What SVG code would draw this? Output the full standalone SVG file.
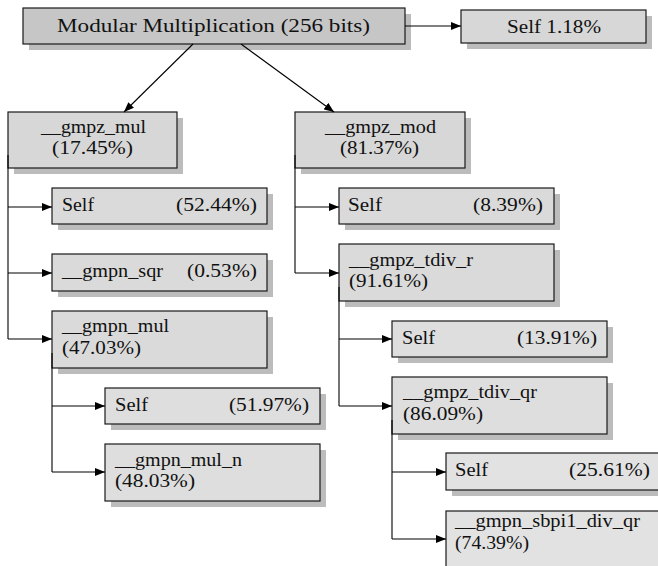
<svg xmlns="http://www.w3.org/2000/svg" width="658" height="566" viewBox="0 0 658 566">
<defs>
<marker id="ah" viewBox="0 0 10 8" refX="10" refY="4" markerWidth="10" markerHeight="8" markerUnits="userSpaceOnUse" orient="auto">
<path d="M0,0 L10,4 L0,8 Z" fill="#000"/>
</marker>
</defs>
<style>
.sh{fill:#bcbcbc}
.bx{stroke:#1a1a1a;stroke-width:1.2}
.l0{fill:#c6c6c6}
.l1{fill:#d7d7d7}
.l2{fill:#dadada}
.l3{fill:#dedede}
.l4{fill:#e2e2e2}
.t{font-family:"Liberation Serif","Times New Roman",serif;font-size:19px;fill:#111}
.c{fill:none;stroke:#000;stroke-width:1.1}
.a{marker-end:url(#ah)}
</style>
<rect width="658" height="566" fill="#fff"/>

<g id="root">
<rect class="sh" x="29" y="14" width="382" height="36"/>
<rect class="bx l0" x="23" y="8" width="382" height="36"/>
<text class="t" x="57" y="32" textLength="313" lengthAdjust="spacingAndGlyphs">Modular Multiplication (256 bits)</text>
</g>
<g id="self_root">
<rect class="sh" x="467" y="16" width="185" height="33"/>
<rect class="bx l1" x="461" y="10" width="185" height="33"/>
<text class="t" x="507" y="33" textLength="94" lengthAdjust="spacingAndGlyphs">Self 1.18%</text>
</g>

<g id="gmpz_mul">
<rect class="sh" x="14" y="118" width="169" height="56"/>
<rect class="bx l1" x="8" y="112" width="169" height="56"/>
<text class="t" x="41" y="133" textLength="105" lengthAdjust="spacingAndGlyphs">__gmpz_mul</text>
<text class="t" x="52" y="154" textLength="81" lengthAdjust="spacingAndGlyphs">(17.45%)</text>
</g>
<g id="self_mul">
<rect class="sh" x="58" y="194" width="215" height="36"/>
<rect class="bx l2" x="52" y="188" width="215" height="36"/>
<text class="t" x="62" y="211" textLength="32" lengthAdjust="spacingAndGlyphs">Self</text>
<text class="t" x="176" y="211" textLength="81" lengthAdjust="spacingAndGlyphs">(52.44%)</text>
</g>
<g id="gmpn_sqr">
<rect class="sh" x="58" y="260" width="215" height="37"/>
<rect class="bx l2" x="52" y="254" width="215" height="37"/>
<text class="t" x="62" y="277" textLength="101" lengthAdjust="spacingAndGlyphs">__gmpn_sqr</text>
<text class="t" x="187" y="277" textLength="70" lengthAdjust="spacingAndGlyphs">(0.53%)</text>
</g>
<g id="gmpn_mul">
<rect class="sh" x="58" y="317" width="215" height="57"/>
<rect class="bx l2" x="52" y="311" width="215" height="57"/>
<text class="t" x="62" y="332" textLength="107" lengthAdjust="spacingAndGlyphs">__gmpn_mul</text>
<text class="t" x="62" y="354" textLength="79" lengthAdjust="spacingAndGlyphs">(47.03%)</text>
</g>
<g id="self_gmpn_mul">
<rect class="sh" x="111" y="394" width="215" height="36"/>
<rect class="bx l3" x="105" y="388" width="215" height="36"/>
<text class="t" x="115" y="411" textLength="33" lengthAdjust="spacingAndGlyphs">Self</text>
<text class="t" x="229" y="411" textLength="80" lengthAdjust="spacingAndGlyphs">(51.97%)</text>
</g>
<g id="gmpn_mul_n">
<rect class="sh" x="111" y="450" width="215" height="57"/>
<rect class="bx l3" x="105" y="444" width="215" height="57"/>
<text class="t" x="115" y="466" textLength="127" lengthAdjust="spacingAndGlyphs">__gmpn_mul_n</text>
<text class="t" x="115" y="487" textLength="80" lengthAdjust="spacingAndGlyphs">(48.03%)</text>
</g>

<g id="gmpz_mod">
<rect class="sh" x="301" y="118" width="170" height="56"/>
<rect class="bx l1" x="295" y="112" width="170" height="56"/>
<text class="t" x="325" y="133" textLength="111" lengthAdjust="spacingAndGlyphs">__gmpz_mod</text>
<text class="t" x="340" y="154" textLength="79" lengthAdjust="spacingAndGlyphs">(81.37%)</text>
</g>
<g id="self_mod">
<rect class="sh" x="345" y="194" width="215" height="36"/>
<rect class="bx l2" x="339" y="188" width="215" height="36"/>
<text class="t" x="348" y="211" textLength="34" lengthAdjust="spacingAndGlyphs">Self</text>
<text class="t" x="473" y="211" textLength="70" lengthAdjust="spacingAndGlyphs">(8.39%)</text>
</g>
<g id="gmpz_tdiv_r">
<rect class="sh" x="345" y="250" width="215" height="57"/>
<rect class="bx l2" x="339" y="244" width="215" height="57"/>
<text class="t" x="349" y="266" textLength="124" lengthAdjust="spacingAndGlyphs">__gmpz_tdiv_r</text>
<text class="t" x="349" y="287" textLength="79" lengthAdjust="spacingAndGlyphs">(91.61%)</text>
</g>
<g id="self_tdiv_r">
<rect class="sh" x="398" y="327" width="215" height="36"/>
<rect class="bx l3" x="392" y="321" width="215" height="36"/>
<text class="t" x="402" y="344" textLength="33" lengthAdjust="spacingAndGlyphs">Self</text>
<text class="t" x="517" y="344" textLength="80" lengthAdjust="spacingAndGlyphs">(13.91%)</text>
</g>
<g id="gmpz_tdiv_qr">
<rect class="sh" x="398" y="383" width="215" height="57"/>
<rect class="bx l3" x="392" y="377" width="215" height="57"/>
<text class="t" x="403" y="398" textLength="134" lengthAdjust="spacingAndGlyphs">__gmpz_tdiv_qr</text>
<text class="t" x="403" y="420" textLength="80" lengthAdjust="spacingAndGlyphs">(86.09%)</text>
</g>
<g id="self_tdiv_qr">
<rect class="sh" x="452" y="459" width="215" height="37"/>
<rect class="bx l4" x="446" y="453" width="215" height="37"/>
<text class="t" x="455" y="476" textLength="33" lengthAdjust="spacingAndGlyphs">Self</text>
<text class="t" x="569" y="476" textLength="81" lengthAdjust="spacingAndGlyphs">(25.61%)</text>
</g>
<g id="gmpn_sbpi1_div_qr">
<rect class="sh" x="452" y="517" width="215" height="57"/>
<rect class="bx l4" x="446" y="511" width="215" height="57"/>
<text class="t" x="455" y="527" textLength="185" lengthAdjust="spacingAndGlyphs">__gmpn_sbpi1_div_qr</text>
<text class="t" x="455" y="549" textLength="74" lengthAdjust="spacingAndGlyphs">(74.39%)</text>
</g>

<g id="connectors">
<path class="c a" d="M405,26 H461"/>
<path class="c a" d="M193,44 L124,112"/>
<path class="c a" d="M241,44 L334,112"/>
<path class="c" d="M8,155 V339"/>
<path class="c a" d="M8,207 H52"/>
<path class="c a" d="M8,273 H52"/>
<path class="c a" d="M8,339 H52"/>
<path class="c" d="M52,353 V472"/>
<path class="c a" d="M52,406 H105"/>
<path class="c a" d="M52,472 H105"/>
<path class="c" d="M295,155 V273"/>
<path class="c a" d="M295,207 H339"/>
<path class="c a" d="M295,273 H339"/>
<path class="c" d="M339,287 V406"/>
<path class="c a" d="M339,339 H392"/>
<path class="c a" d="M339,406 H392"/>
<path class="c" d="M392,420 V539"/>
<path class="c a" d="M392,472 H446"/>
<path class="c a" d="M392,539 H446"/>
</g>
</svg>
